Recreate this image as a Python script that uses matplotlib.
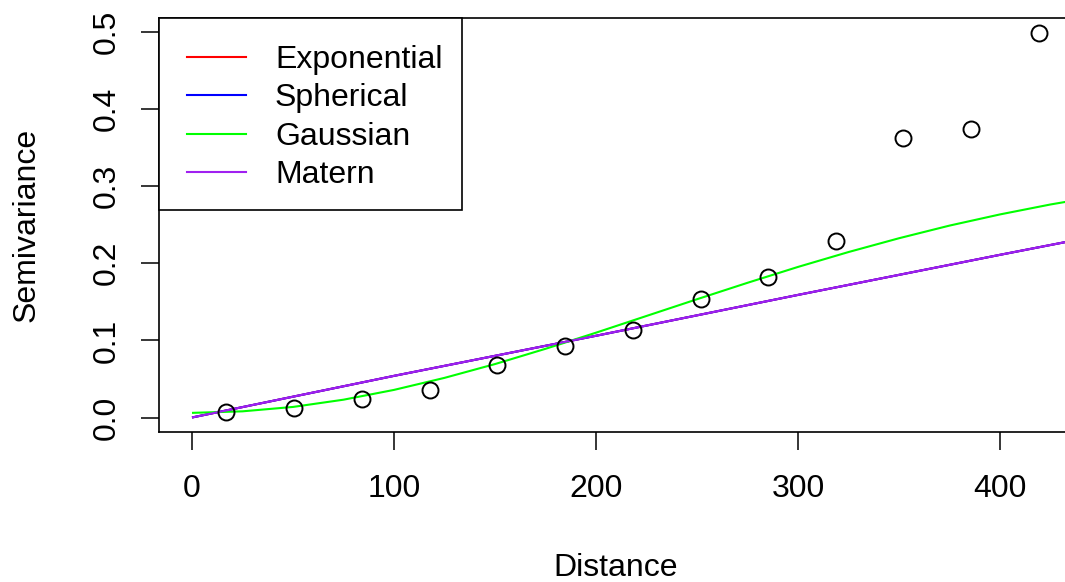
import matplotlib
matplotlib.use("Agg")
import matplotlib.pyplot as plt
from matplotlib.patches import Rectangle
from matplotlib.lines import Line2D

plt.rcParams['font.family'] = ['Liberation Sans', 'DejaVu Sans']

# empirical semivariogram
dist = [16.8, 50.5, 84.2, 117.8, 150.8, 184.7, 218.2, 251.8, 285.3, 318.7, 352.1, 385.8, 419.3]
gamma = [0.0074, 0.0117, 0.0242, 0.0354, 0.0687, 0.0924, 0.114, 0.1537, 0.1822, 0.2293, 0.3623, 0.3744, 0.4983]

# fitted model curves
model_x = [0, 100, 200, 300, 400, 450]
exp_y = [0.0, 0.0540, 0.1060, 0.1590, 0.2110, 0.2365]
sph_y = [0.0, 0.0540, 0.1060, 0.1590, 0.2110, 0.2365]
mat_y = [0.0, 0.0540, 0.1060, 0.1590, 0.2110, 0.2365]
gau_x = [0, 25, 50, 75, 100, 125, 150, 175, 200, 225, 250, 275, 300, 325, 350, 375, 400, 425, 450]
gau_y = [0.0060, 0.0080, 0.0137, 0.0231, 0.0358, 0.0514, 0.0693, 0.0891, 0.1100, 0.1317, 0.1534, 0.1747,
         0.1953, 0.2146, 0.2325, 0.2489, 0.2634, 0.2763, 0.2875]

labels = ["Exponential", "Spherical", "Gaussian", "Matern"]
colors = ["#FF0000", "#0000FF", "#00FF00", "#A020F0"]
xticks = [0, 100, 200, 300, 400]
yticks = [0.0, 0.1, 0.2, 0.3, 0.4, 0.5]

W, H = 1065, 582
fig = plt.figure(figsize=(W / 100, H / 100), dpi=100)


def fx(px):
    return px / W


def fy(py):
    return 1 - py / H


left, right, top, bottom = 159, 1073, 18, 432
ax = fig.add_axes([fx(left), fy(bottom), (right - left) / W, (bottom - top) / H])
ax.set_xlim((left - 192) / 2.02, (right - 192) / 2.02)
ax.set_ylim((417.5 - bottom) / 771, (417.5 - top) / 771)

curves = [(model_x, exp_y), (model_x, sph_y), (gau_x, gau_y), (model_x, mat_y)]
for (cx, cy), c in zip(curves, colors):
    ax.plot(cx, cy, color=c, lw=1.5, solid_capstyle='butt')
ax.plot(dist, gamma, 'o', mfc='none', mec='black', ms=11.5, mew=1.4, zorder=5)

for s in ax.spines.values():
    s.set_linewidth(1.2)

ax.set_xticks(xticks)
ax.set_xticklabels([str(t) for t in xticks])
ax.set_yticks(yticks)
ax.set_yticklabels([f"{t:.1f}" for t in yticks])
ax.tick_params(axis='both', direction='out', length=13, width=1.1, labelsize=23)
ax.tick_params(axis='x', pad=17)
ax.tick_params(axis='y', pad=13.5)
for lab in ax.get_yticklabels():
    lab.set_rotation(90)
    lab.set_va('center')

fig.text(fx(616), fy(576.5), "Distance", fontsize=23, ha='center', va='baseline')
fig.text(fx(35), fy(225), "Semivariance", fontsize=23, ha='center', va='baseline',
         rotation=90, rotation_mode='anchor')

# legend box
fig.patches.append(Rectangle((fx(159), fy(210)), (462 - 159) / W, (210 - 18) / H,
                             transform=fig.transFigure, facecolor='white', edgecolor='black',
                             lw=1.2, zorder=10))
for i, (lab, c) in enumerate(zip(labels, colors)):
    yc = 57 + i * 38.3
    fig.lines.append(Line2D([fx(187), fx(246)], [fy(yc), fy(yc)], transform=fig.transFigure,
                            color=c, lw=1.5, zorder=11))
    fig.text(fx(275), fy(68 + i * 38.3), lab, fontsize=23, ha='left', va='baseline', zorder=12)

fig.savefig("out.png", dpi=100)
